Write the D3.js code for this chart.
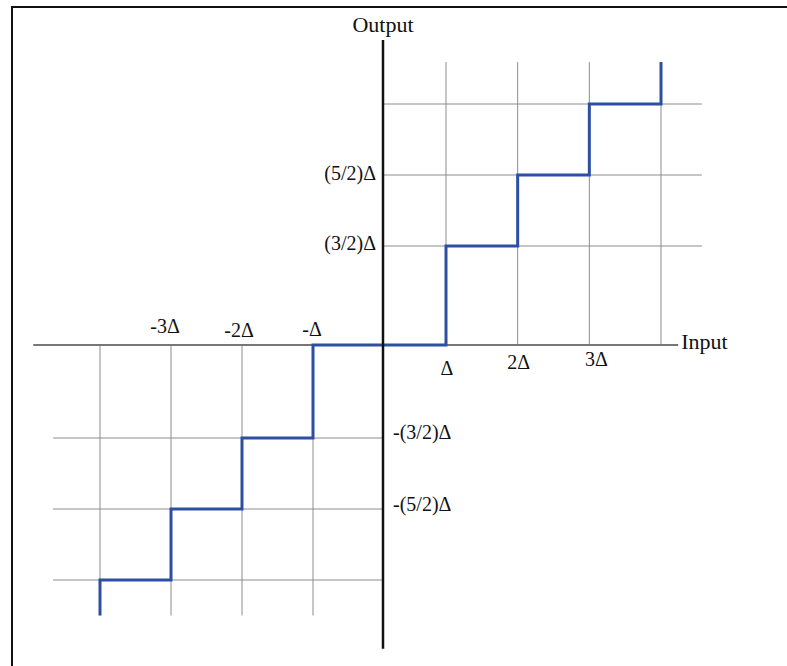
<!DOCTYPE html>
<html>
<head>
<meta charset="utf-8">
<script src="https://cdn.jsdelivr.net/npm/d3@7"></script>
<style>
  html, body { margin: 0; padding: 0; background: #fff; }
  svg { display: block; }
  text { font-family: "Liberation Serif", "Times New Roman", serif; fill: #111; }
</style>
</head>
<body>
<svg id="chart" width="787" height="666"></svg>
<script>
// ---- data ----
// quantizer staircase (input in units of Δ, output in units of Δ)
const stepInput  = [-4, -4, -3, -3, -2, -2, -1, -1, 1, 1, 2, 2, 3, 3, 4, 4];
const stepOutput = [-4.0, -3.5, -3.5, -2.5, -2.5, -1.5, -1.5, 0, 0, 1.5, 1.5, 2.5, 2.5, 3.5, 3.5, 4.09];

const xTickValues = [-3, -2, -1, 1, 2, 3];
const xTickLabels = ["-3Δ", "-2Δ", "-Δ", "Δ", "2Δ", "3Δ"];
const yTickValues = [2.5, 1.5, -1.5, -2.5];
const yTickLabels = ["(5/2)Δ", "(3/2)Δ", "-(3/2)Δ", "-(5/2)Δ"];

const gridInputsPos  = [1, 2, 3, 4];
const gridInputsNeg  = [-1, -2, -3, -4];
const gridOutputsPos = [1.5, 2.5, 3.5];
const gridOutputsNeg = [-1.5, -2.5, -3.5];

const xAxisTitle = "Input";
const yAxisTitle = "Output";

// ---- layout ----
const svg = d3.select("#chart");
const x = d3.scaleLinear().domain([-4, -1, 0, 1, 4]).range([100, 313, 383, 446, 661]);
const y = d3.scaleLinear().domain([-3.5, -1.5, 0, 1.5, 3.5]).range([580, 438, 345, 246, 104]);

// per-label nudges (pixels) to mimic the hand-placed labels
const xLabelDx = [-6, -3, -1, 1, 1, 7];
const xLabelY  = [333, 337, 336, 375, 369, 366];
const yLabelDy = [5, 4, 1, 2];

// frame (left and top border)
svg.append("path")
  .attr("d", "M12,666 L12,7 L787,7")
  .attr("fill", "none").attr("stroke", "#111").attr("stroke-width", 2);

const grid = svg.append("g").attr("stroke", "#8c8c8c").attr("stroke-width", 1);
// vertical grid lines
grid.selectAll("line.vp").data(gridInputsPos).join("line")
  .attr("x1", d => x(d)).attr("x2", d => x(d))
  .attr("y1", y(0)).attr("y2", y(4.09));
grid.selectAll("line.vn").data(gridInputsNeg).join("line")
  .attr("x1", d => x(d)).attr("x2", d => x(d))
  .attr("y1", y(0)).attr("y2", y(-4.0));
// horizontal grid lines
grid.selectAll("line.hp").data(gridOutputsPos).join("line")
  .attr("x1", x(0)).attr("x2", x(4.57))
  .attr("y1", d => y(d)).attr("y2", d => y(d));
grid.selectAll("line.hn").data(gridOutputsNeg).join("line")
  .attr("x1", x(-4.66)).attr("x2", x(0))
  .attr("y1", d => y(d)).attr("y2", d => y(d));

// x axis (gray)
svg.append("line")
  .attr("x1", x(-4.94)).attr("x2", x(4.24))
  .attr("y1", y(0)).attr("y2", y(0))
  .attr("stroke", "#777").attr("stroke-width", 2);

// staircase
const pts = stepInput.map((v, i) => [v, stepOutput[i]]);
svg.append("path")
  .datum(pts)
  .attr("d", d3.line().x(d => x(d[0])).y(d => y(d[1])))
  .attr("fill", "none")
  .attr("stroke", "#2c4fa3")
  .attr("stroke-width", 3)
  .attr("stroke-linejoin", "miter");

// y axis (black)
svg.append("line")
  .attr("x1", x(0)).attr("x2", x(0))
  .attr("y1", y(4.40)).attr("y2", y(-4.47))
  .attr("stroke", "#111").attr("stroke-width", 2.5);

// x tick labels
svg.append("g").selectAll("text").data(xTickValues).join("text")
  .attr("x", (d, i) => x(d) + xLabelDx[i])
  .attr("y", (d, i) => xLabelY[i])
  .attr("text-anchor", "middle")
  .style("font-size", "20px")
  .text((d, i) => xTickLabels[i]);

// y tick labels
svg.append("g").selectAll("text").data(yTickValues).join("text")
  .attr("x", d => d > 0 ? x(0) - 7 : x(0) + 10)
  .attr("y", (d, i) => y(d) + yLabelDy[i])
  .attr("text-anchor", d => d > 0 ? "end" : "start")
  .style("font-size", "20px")
  .text((d, i) => yTickLabels[i]);

// axis titles
svg.append("text")
  .attr("x", x(0)).attr("y", 32)
  .attr("text-anchor", "middle")
  .style("font-size", "22px")
  .text(yAxisTitle);
svg.append("text")
  .attr("x", x(4.24) + 3).attr("y", y(0) + 4)
  .attr("text-anchor", "start")
  .style("font-size", "22px")
  .text(xAxisTitle);
</script>
</body>
</html>
